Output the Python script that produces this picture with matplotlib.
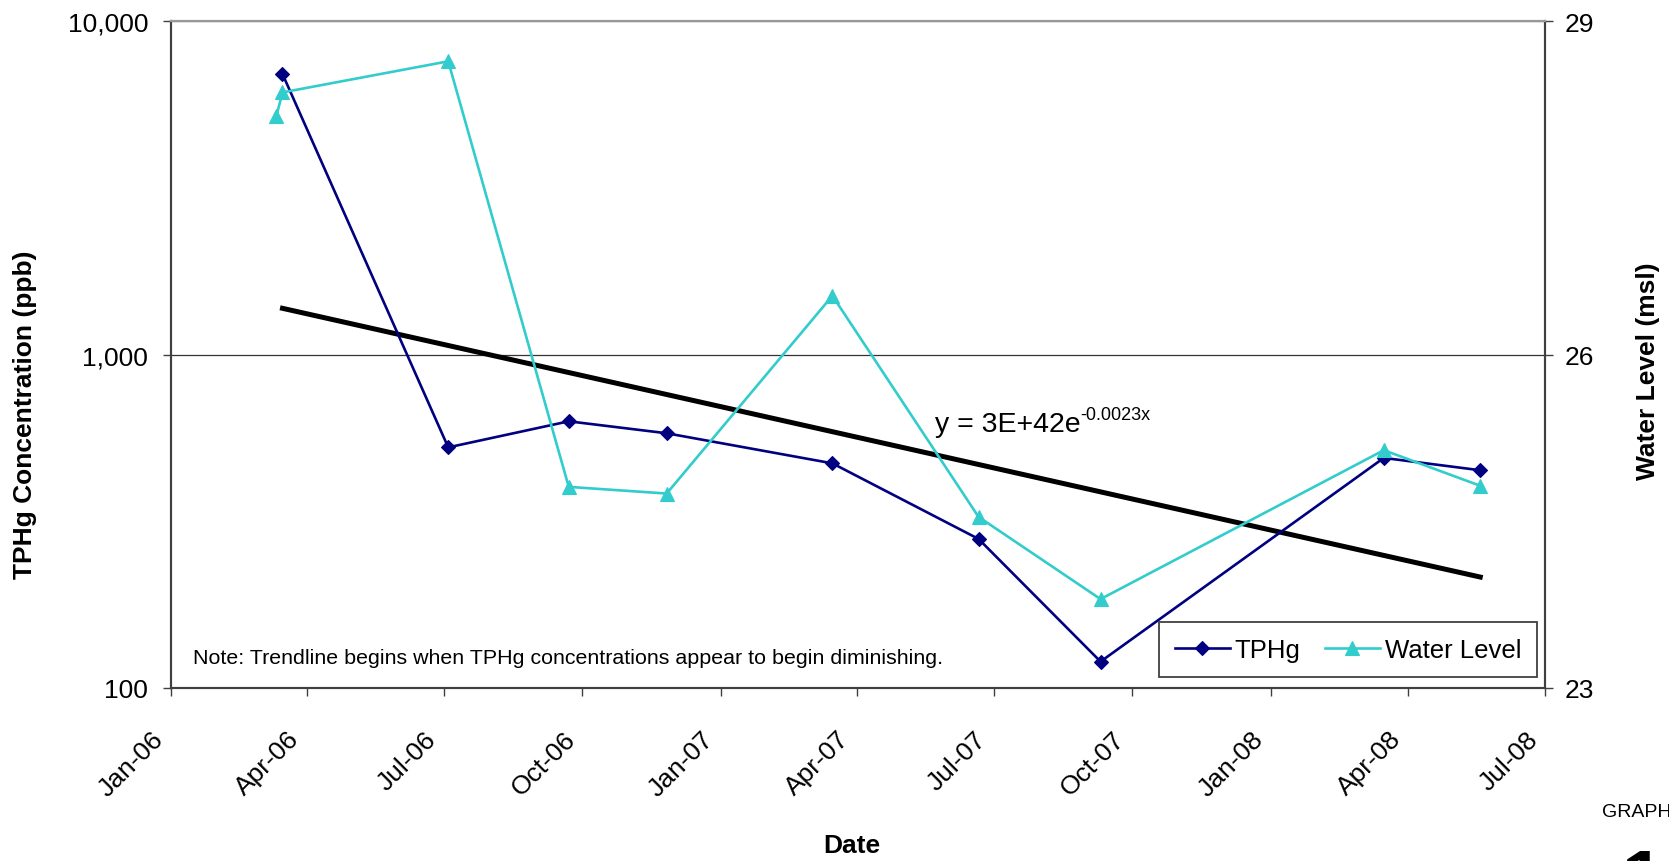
import matplotlib
matplotlib.use('Agg')
import numpy as np
import matplotlib.pyplot as plt
import matplotlib.dates as mdates
import matplotlib.ticker as mticker
from matplotlib.transforms import ScaledTranslation
from datetime import datetime

plt.rcParams['font.family'] = 'Liberation Sans'

# sampling dates and results
tphg_dates = np.array(['2006-03-16', '2006-07-04', '2006-09-22', '2006-11-26', '2007-03-16',
                       '2007-06-21', '2007-09-10', '2008-03-16', '2008-05-19'], dtype='datetime64[D]')
tphg_ppb = [6950, 527, 631, 581, 472, 280, 120, 490, 450]

water_dates = np.array(['2006-03-12', '2006-03-16', '2006-07-04', '2006-09-22', '2006-11-26',
                        '2007-03-16', '2007-06-21', '2007-09-10', '2008-03-16', '2008-05-19'],
                       dtype='datetime64[D]')
water_msl = [28.15, 28.36, 28.64, 24.81, 24.75, 26.53, 24.54, 23.80, 25.14, 24.82]

# exponential trend, x in spreadsheet date serials
trend_a = 3e42
trend_b = -0.002335

left_ticks = [100, 1000, 10000]
right_ticks = [23, 26, 29]

navy = '#000080'
teal = '#33CCCC'
frame = '#404040'

fig = plt.figure(figsize=(16.69, 8.62), dpi=100)
ax = fig.add_axes([0.10246, 0.2007, 0.82325, 0.77343])
ax2 = ax.twinx()

# trendline from first to last TPHg sample
tx = np.linspace(mdates.date2num(tphg_dates[0]), mdates.date2num(tphg_dates[-1]), 60)
serial = tx + 25569
ty = trend_a * np.exp(trend_b * serial)
ax.plot(mdates.num2date(tx), ty, color='black', lw=3.6, zorder=2)

l1, = ax.plot(tphg_dates, tphg_ppb, color=navy, lw=1.9, marker='D', ms=7.5,
              markeredgewidth=0.8, zorder=3, label='TPHg')
l2, = ax2.plot(water_dates, water_msl, color=teal, lw=1.9, marker='^', ms=10.5,
               markeredgewidth=0.8, zorder=3, label='Water Level')

ax.set_yscale('log')
ax.set_ylim(100, 10000)
ax.yaxis.set_major_locator(mticker.FixedLocator(left_ticks))
ax.yaxis.set_minor_locator(mticker.NullLocator())
ax.yaxis.set_major_formatter(mticker.FuncFormatter(lambda v, p: f'{v:,.0f}'))
ax.grid(axis='y', which='major', color='#333333', lw=0.9)
ax.set_axisbelow(True)

ax2.set_ylim(23, 29)
ax2.set_yticks(right_ticks)

ax.set_xlim(datetime(2006, 1, 1), datetime(2008, 7, 1))
ax.xaxis.set_major_locator(mdates.MonthLocator(bymonth=[1, 4, 7, 10]))
ax.xaxis.set_major_formatter(mdates.DateFormatter('%b-%y'))

ax.tick_params(axis='x', direction='out', length=5.8, width=1, color=frame, labelsize=19, pad=28)
ax.tick_params(axis='y', direction='out', length=5.8, width=1, color=frame, labelsize=19, pad=10.5)
ax2.tick_params(axis='y', direction='out', length=5.8, width=1, color=frame, labelsize=19, pad=8)

# slanted date labels, nudged a little left of their ticks
shift = ScaledTranslation(-0.11, 0, fig.dpi_scale_trans)
for lbl in ax.get_xticklabels():
    lbl.set_rotation(45)
    lbl.set_ha('right')
    lbl.set_va('center')
    lbl.set_rotation_mode('anchor')
    lbl.set_transform(lbl.get_transform() + shift)

for a in (ax, ax2):
    for side in ('left', 'right', 'bottom'):
        a.spines[side].set_color(frame)
        a.spines[side].set_linewidth(1.5)
    a.spines['top'].set_color('#999999')
    a.spines['top'].set_linewidth(1.5)

ax.set_ylabel('TPHg Concentration (ppb)', fontsize=19, fontweight='bold', va='center')
ax.yaxis.set_label_coords(-0.1063, 0.411)
ax2.set_ylabel('Water Level (msl)', fontsize=19, fontweight='bold', va='center', rotation=90)
ax2.yaxis.set_label_coords(1.075, 0.477)
ax.set_xlabel('Date', fontsize=19, fontweight='bold', va='center')
ax.xaxis.set_label_coords(0.4956, -0.2355)

# trend equation with its exponent raised
ax.text(0.556, 0.3855, 'y = 3E+42e', transform=ax.transAxes,
        fontsize=20.5, va='baseline', ha='left')
ax.text(0.6616, 0.4035, '-0.0023x', transform=ax.transAxes,
        fontsize=13, va='baseline', ha='left')
ax.text(0.016, 0.0375, 'Note: Trendline begins when TPHg concentrations appear to begin diminishing.',
        transform=ax.transAxes, fontsize=15.4, va='baseline', ha='left')

leg = ax2.legend(handles=[l1, l2], loc='lower right', bbox_to_anchor=(0.9942, 0.0165),
                 ncol=2, fontsize=18.5, frameon=True, fancybox=False, borderaxespad=0,
                 handlelength=2.14, handletextpad=0.2, columnspacing=0.95, borderpad=0.6)
leg.get_frame().set_edgecolor(frame)
leg.get_frame().set_linewidth(1.3)
leg.get_frame().set_alpha(1)

fig.text(0.9598, 0.0522, 'GRAPH', fontsize=14, va='baseline', ha='left')
fig.text(0.9713, 0.0162, '1', fontsize=54, fontweight='bold', va='top', ha='left')

fig.savefig('out.png', dpi=100)
